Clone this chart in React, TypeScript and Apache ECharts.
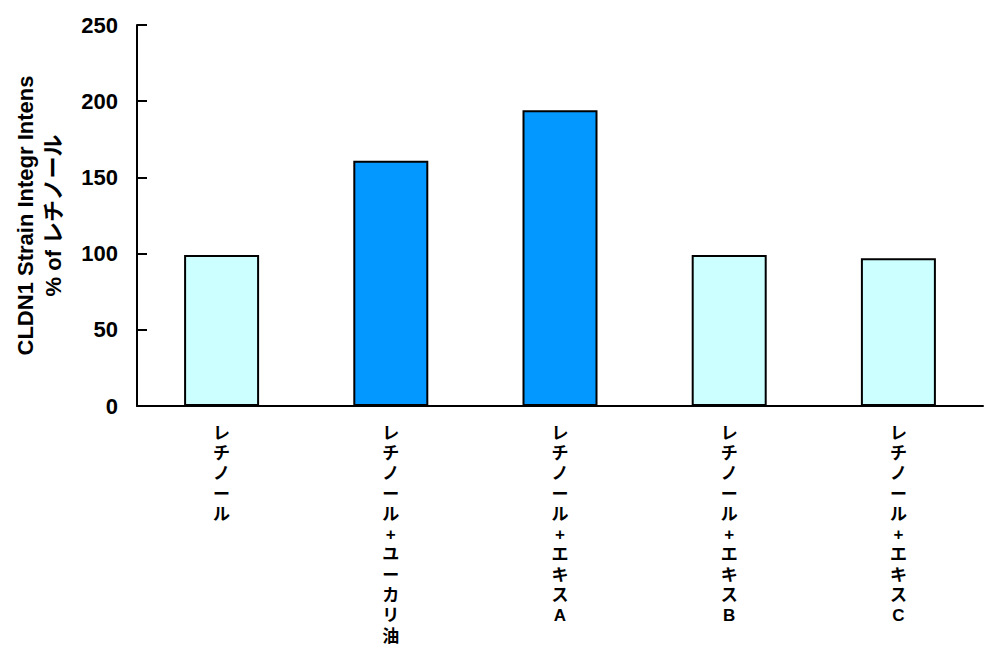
import { useEffect, useRef } from 'react';
import * as echarts from 'echarts';

const categories = [
    'レチノール',
    'レチノール+ユーカリ油',
    'レチノール+エキスA',
    'レチノール+エキスB',
    'レチノール+エキスC',
];
const values = [99, 161, 194, 99, 97];
const barColors = ['#CCFFFF', '#0398FF', '#0398FF', '#CCFFFF', '#CCFFFF'];
const yTicks = [0, 250, 50]; // min, max, interval
const yName = 'CLDN1 Strain Integr Intens\n% of レチノール';

const FONT = '"Liberation Sans", "Noto Sans CJK JP", sans-serif';

const App = () => {
    const chartRef = useRef<HTMLDivElement>(null);

    useEffect(() => {
        document.body.style.margin = '0';
        const chart = echarts.init(chartRef.current, null, { renderer: 'svg' });
        chart.setOption({
            animation: false,
            grid: { left: 137, right: 17, top: 25, bottom: 261 },
            xAxis: {
                type: 'category',
                data: categories,
                axisLine: { lineStyle: { color: '#000', width: 2 } },
                axisTick: { show: false },
                axisLabel: {
                    interval: 0,
                    margin: 17,
                    color: '#000',
                    fontFamily: FONT,
                    fontWeight: 'bold',
                    fontSize: 17,
                    lineHeight: 20.3,
                    formatter: (v: string) => v.split('').join('\n'),
                },
            },
            yAxis: {
                type: 'value',
                min: yTicks[0],
                max: yTicks[1],
                interval: yTicks[2],
                name: yName,
                nameLocation: 'middle',
                nameGap: 70,
                nameTextStyle: {
                    color: '#000',
                    fontFamily: FONT,
                    fontWeight: 'bold',
                    fontSize: 22,
                    lineHeight: 28,
                },
                axisLine: { show: true, lineStyle: { color: '#000', width: 2 } },
                axisTick: { show: true, inside: true, length: 10, lineStyle: { color: '#000', width: 2 } },
                splitLine: { show: false },
                axisLabel: {
                    margin: 19,
                    color: '#000',
                    fontFamily: FONT,
                    fontWeight: 'bold',
                    fontSize: 22,
                },
            },
            series: [
                {
                    type: 'bar',
                    barWidth: 75,
                    data: values.map((v, i) => ({
                        value: v,
                        itemStyle: { color: barColors[i] },
                    })),
                    itemStyle: { borderColor: '#000', borderWidth: 2 },
                },
            ],
        });
        return () => {
            chart.dispose();
        };
    }, []);

    return <div ref={chartRef} style={{ width: '1000px', height: '667px' }} />;
};

export default App;
